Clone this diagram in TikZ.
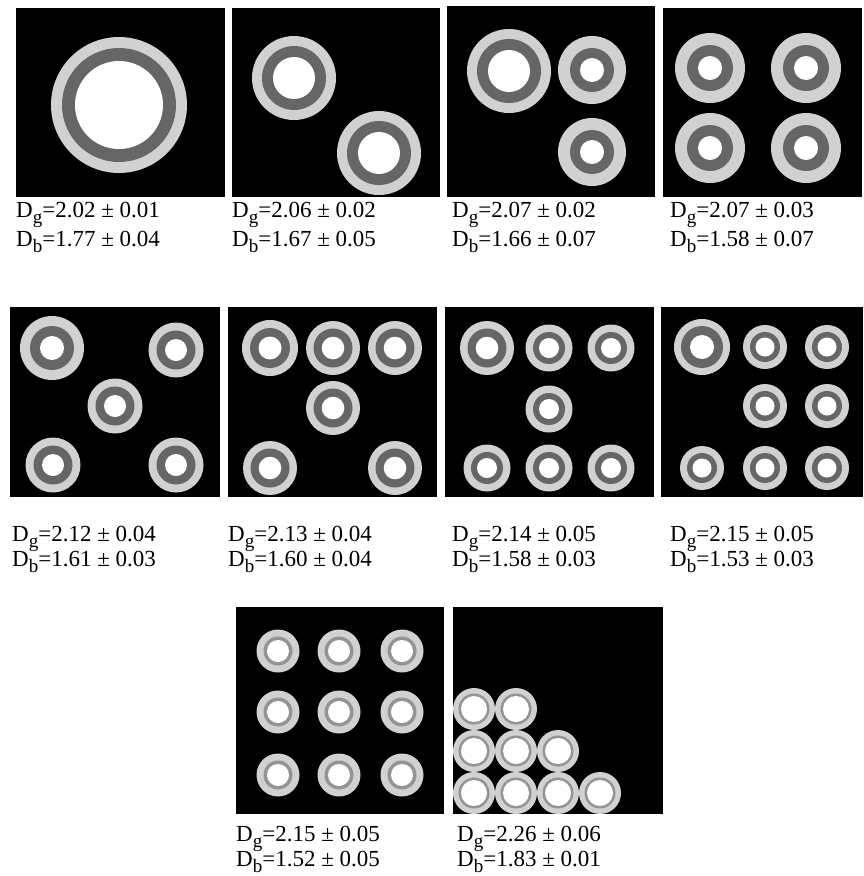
\documentclass[tikz,border=0pt]{standalone}
\usepackage{fontspec}
\setmainfont{Liberation Serif}
\usepackage{xcolor}
\usepackage{tikz}

\definecolor{ringlight}{gray}{0.82}
\definecolor{ringdark}{gray}{0.40}
\definecolor{ringthin}{gray}{0.58}

% one ring: [dark colour]{x}{y}{outer}{dark}{inner}
\newcommand{\Ring}[6][ringdark]{%
  \fill[ringlight] (#2,#3) circle[radius=#4pt];
  \fill[#1] (#2,#3) circle[radius=#5pt];
  \fill[white] (#2,#3) circle[radius=#6pt];}
% lowered subscript of the labels
\newcommand{\lowsub}[1]{\raisebox{-0.28em}{\fontsize{19}{20}\selectfont #1}}

\tikzset{
  panel/.style={fill=black},
  lbl/.style={anchor=base west, inner sep=0pt, font=\fontsize{23}{26}\selectfont}
}

\begin{document}
\begin{tikzpicture}[x=1pt, y=-1pt]
\useasboundingbox (0,0) rectangle (863,876);

% row 1
\fill[panel] (16,8) rectangle (225,197);
\fill[panel] (232,8) rectangle (440,197);
\fill[panel] (447,6) rectangle (655,197);
\fill[panel] (663,8) rectangle (862,197);
\Ring{119}{105}{68}{57}{44}
\Ring{294}{78}{42}{32}{21}
\Ring{379}{153}{42}{32}{21}
\Ring{509}{71}{42}{32}{21}
\Ring{592}{70}{34}{22}{12}
\Ring{592}{152}{34}{22}{12}
\Ring{710}{68}{35}{23}{12}
\Ring{806}{68}{35}{23}{12}
\Ring{710}{148}{35}{23}{12}
\Ring{806}{148}{35}{23}{12}

% row 2
\fill[panel] (10,307) rectangle (220,497);
\fill[panel] (228,307) rectangle (437,497);
\fill[panel] (445,307) rectangle (654,497);
\fill[panel] (661,307) rectangle (863,497);
\Ring{52}{348}{32}{22}{12}
\Ring{176}{350}{27.5}{19.5}{11}
\Ring{115}{406}{27.5}{19.5}{11}
\Ring{53}{465}{27.5}{19.5}{11}
\Ring{176}{465}{27.5}{19.5}{11}
\Ring{270}{348}{28}{20}{11.5}
\Ring{333}{348}{27}{19.5}{11.3}
\Ring{395}{348}{27}{19.5}{11.3}
\Ring{333}{408}{27}{19.5}{11.3}
\Ring{270}{468}{27}{19.5}{11.3}
\Ring{395}{468}{27}{19.5}{11.3}
\Ring{487}{348}{27}{19.5}{11.3}
\Ring{549}{348}{23.5}{16}{10}
\Ring{611}{348}{23.5}{16}{10}
\Ring{549}{409}{23.5}{16}{10}
\Ring{487}{468}{23.5}{16}{10}
\Ring{549}{468}{23.5}{16}{10}
\Ring{611}{468}{23.5}{16}{10}
\Ring{702}{347}{28}{21}{12}
\Ring{765}{347}{22}{15}{9.5}
\Ring{827}{347}{22}{15}{9.5}
\Ring{765}{406}{22}{15}{9.5}
\Ring{827}{406}{22}{15}{9.5}
\Ring{702}{468}{22}{15}{9.5}
\Ring{765}{468}{22}{15}{9.5}
\Ring{827}{468}{22}{15}{9.5}

% row 3
\fill[panel] (236,607) rectangle (444,814);
\fill[panel] (453,607) rectangle (663,814);
\Ring[ringthin]{278}{651}{21.5}{14.5}{11}
\Ring[ringthin]{339}{651}{21.5}{14.5}{11}
\Ring[ringthin]{402}{651}{21.5}{14.5}{11}
\Ring[ringthin]{278}{712}{21.5}{14.5}{11}
\Ring[ringthin]{339}{712}{21.5}{14.5}{11}
\Ring[ringthin]{402}{712}{21.5}{14.5}{11}
\Ring[ringthin]{278}{775}{21.5}{14.5}{11}
\Ring[ringthin]{339}{775}{21.5}{14.5}{11}
\Ring[ringthin]{402}{775}{21.5}{14.5}{11}
\Ring[ringthin]{474}{709}{21}{15.5}{13}
\Ring[ringthin]{516}{709}{21}{15.5}{13}
\Ring[ringthin]{474}{751}{21}{15.5}{13}
\Ring[ringthin]{516}{751}{21}{15.5}{13}
\Ring[ringthin]{558}{751}{21}{15.5}{13}
\Ring[ringthin]{474}{793}{21}{15.5}{13}
\Ring[ringthin]{516}{793}{21}{15.5}{13}
\Ring[ringthin]{558}{793}{21}{15.5}{13}
\Ring[ringthin]{600}{793}{21}{15.5}{13}

% labels
\node[lbl] (gA) at (16,217) {D\lowsub{g}=2.02 ± 0.01};
\node[lbl] (bA) at (16,246) {D\lowsub{b}=1.77 ± 0.04};
\node[lbl] (gB) at (232,217) {D\lowsub{g}=2.06 ± 0.02};
\node[lbl] (bB) at (232,246) {D\lowsub{b}=1.67 ± 0.05};
\node[lbl] (gC) at (452,217) {D\lowsub{g}=2.07 ± 0.02};
\node[lbl] (bC) at (452,246) {D\lowsub{b}=1.66 ± 0.07};
\node[lbl] (gD) at (670,217) {D\lowsub{g}=2.07 ± 0.03};
\node[lbl] (bD) at (670,246) {D\lowsub{b}=1.58 ± 0.07};
\node[lbl] (gE) at (12,541) {D\lowsub{g}=2.12 ± 0.04};
\node[lbl] (bE) at (12,566) {D\lowsub{b}=1.61 ± 0.03};
\node[lbl] (gF) at (228,541) {D\lowsub{g}=2.13 ± 0.04};
\node[lbl] (bF) at (228,566) {D\lowsub{b}=1.60 ± 0.04};
\node[lbl] (gG) at (452,541) {D\lowsub{g}=2.14 ± 0.05};
\node[lbl] (bG) at (452,566) {D\lowsub{b}=1.58 ± 0.03};
\node[lbl] (gH) at (670,541) {D\lowsub{g}=2.15 ± 0.05};
\node[lbl] (bH) at (670,566) {D\lowsub{b}=1.53 ± 0.03};
\node[lbl] (gI) at (236,841) {D\lowsub{g}=2.15 ± 0.05};
\node[lbl] (bI) at (236,866) {D\lowsub{b}=1.52 ± 0.05};
\node[lbl] (gJ) at (457,841) {D\lowsub{g}=2.26 ± 0.06};
\node[lbl] (bJ) at (457,866) {D\lowsub{b}=1.83 ± 0.01};
\end{tikzpicture}
\end{document}
